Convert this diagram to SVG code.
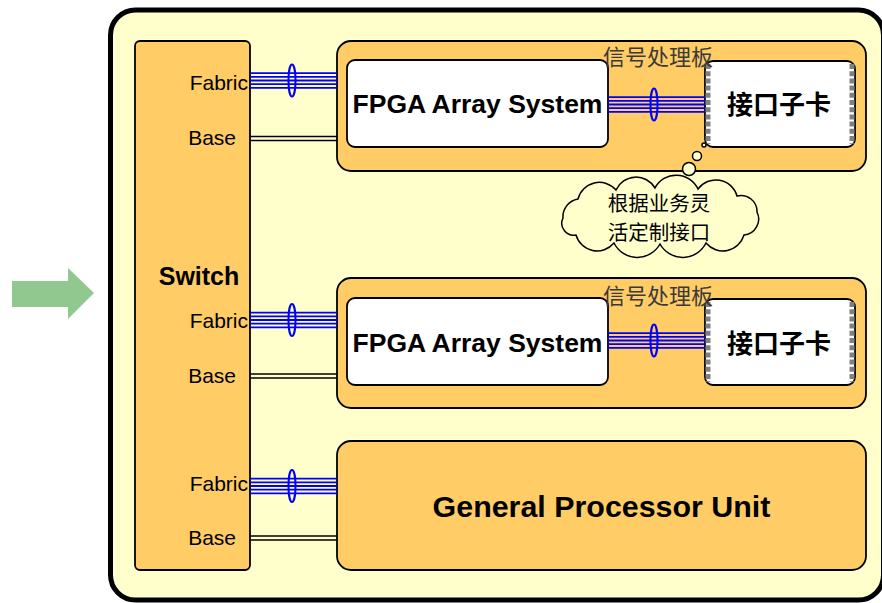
<svg xmlns="http://www.w3.org/2000/svg" width="882" height="603" viewBox="0 0 882 603">
  <style>
    .frame{fill:#FFFFCC;stroke:#000;stroke-width:5}
    .board{fill:#FFCC66;stroke:#000;stroke-width:1.8}
    .box{fill:#FFFFFF;stroke:#000;stroke-width:1.8}
    .lbl{font-family:"Liberation Sans",Arial,sans-serif;font-size:21px;fill:#000;text-anchor:end}
    .big{font-family:"Liberation Sans",Arial,sans-serif;font-weight:bold;fill:#000;text-anchor:middle}
    .cjk{font-family:"Noto Sans CJK SC",sans-serif}
    .card{font-family:"Noto Sans CJK SC",sans-serif;font-weight:bold;font-size:26px;fill:#000;text-anchor:middle}
    .title{font-family:"Noto Sans CJK SC",sans-serif;font-size:22px;fill:#3a3a3a}
    .fab{fill:none;stroke:#0000FF;stroke-width:1.8}
    .ring{fill:none;stroke:#0000FF;stroke-width:2}
    .base{fill:none;stroke:#000;stroke-width:1.6}
    .edge{stroke:#808080;stroke-width:5;stroke-dasharray:5 2.2}
    .bub{fill:#FFFFCC;stroke:#000;stroke-width:1.5}
  </style>

  <!-- incoming arrow -->
  <polygon id="arrow" points="12,281 68,281 68,268 94,293 68,319 68,307 12,307" fill="#90C890"/>

  <!-- chassis frame -->
  <rect id="chassis" class="frame" x="110.5" y="10" width="773" height="590" rx="25"/>

  <!-- switch column -->
  <g id="switch">
    <rect class="board" x="135" y="41" width="115" height="529" rx="5"/>
    <text class="big" x="199" y="285" font-size="25">Switch</text>
    <text class="lbl" x="248" y="90">Fabric</text>
    <text class="lbl" x="236" y="145">Base</text>
    <text class="lbl" x="248" y="328">Fabric</text>
    <text class="lbl" x="236" y="383">Base</text>
    <text class="lbl" x="248" y="491">Fabric</text>
    <text class="lbl" x="236" y="545">Base</text>
  </g>

  <!-- signal processing board 1 -->
  <g id="board1">
    <rect class="board" x="337" y="41" width="529" height="130" rx="14"/>
    <rect class="box" x="347" y="60" width="261" height="87" rx="8"/>
    <text class="big" x="477.5" y="113" font-size="26.5">FPGA Array System</text>
    <rect class="box" x="705" y="61" width="150" height="86" rx="8"/>
    <line class="edge" x1="708" y1="64" x2="708" y2="144"/>
    <line class="edge" x1="852" y1="64" x2="852" y2="144"/>
    <text class="card" x="779" y="114">接口子卡</text>
    <text class="title" x="603" y="65">信号处理板</text>
  </g>

  <!-- signal processing board 2 -->
  <g id="board2">
    <rect class="board" x="337" y="278" width="529" height="130" rx="14"/>
    <rect class="box" x="347" y="298" width="261" height="87" rx="8"/>
    <text class="big" x="477.5" y="352" font-size="26.5">FPGA Array System</text>
    <rect class="box" x="705" y="299" width="150" height="86" rx="8"/>
    <line class="edge" x1="708" y1="302" x2="708" y2="382"/>
    <line class="edge" x1="852" y1="302" x2="852" y2="382"/>
    <text class="card" x="779" y="353">接口子卡</text>
    <text class="title" x="603" y="304">信号处理板</text>
  </g>

  <!-- general processor unit -->
  <g id="gpu">
    <rect class="board" x="337" y="441" width="529" height="129" rx="14"/>
    <text class="big" x="601.5" y="517" font-size="30.4">General Processor Unit</text>
  </g>

  <!-- links: fabric bundles and base pairs -->
  <g id="connectors">
    <path class="fab" d="M250,73.1H337M250,76.8H337M250,80.5H337M250,84.2H337M250,87.9H337"/>
    <ellipse class="ring" cx="292" cy="80.5" rx="3.5" ry="16"/>
    <path class="base" d="M250,136.5H337M250,140.5H337"/>

    <path class="fab" d="M608,97.1H705M608,100.8H705M608,104.5H705M608,108.2H705M608,111.9H705"/>
    <ellipse class="ring" cx="654" cy="104.5" rx="3.5" ry="16"/>

    <path class="fab" d="M250,312.6H337M250,316.3H337M250,320H337M250,323.7H337M250,327.4H337"/>
    <ellipse class="ring" cx="292" cy="320" rx="3.5" ry="16"/>
    <path class="base" d="M250,374H337M250,378H337"/>

    <path class="fab" d="M608,333.1H705M608,336.8H705M608,340.5H705M608,344.2H705M608,347.9H705"/>
    <ellipse class="ring" cx="654" cy="340.5" rx="3.5" ry="16"/>

    <path class="fab" d="M250,478.6H337M250,482.3H337M250,486H337M250,489.7H337M250,493.4H337"/>
    <ellipse class="ring" cx="292" cy="486" rx="3.5" ry="16"/>
    <path class="base" d="M250,536H337M250,540H337"/>
  </g>

  <!-- callout cloud -->
  <g id="note">
    <circle class="bub" cx="704" cy="145" r="2"/>
    <circle class="bub" cx="697" cy="156" r="4.5"/>
    <circle class="bub" cx="689" cy="169" r="6.5"/>
    <path class="bub" d="M563,218 A18,18 0 0 1 578,199 A22,22 0 0 1 616,190 A22,22 0 0 1 655,188 A24,24 0 0 1 698,189 A22,22 0 0 1 737,196 A16,16 0 0 1 757,212 A16,16 0 0 1 744,235 A22,22 0 0 1 706,243 A26,26 0 0 1 660,244 A26,26 0 0 1 614,243 A22,22 0 0 1 576,235 A12,12 0 0 1 563,218 Z"/>
    <text class="cjk" x="659" y="211" font-size="20.5" text-anchor="middle">根据业务灵</text>
    <text class="cjk" x="659" y="240" font-size="20.5" text-anchor="middle">活定制接口</text>
  </g>
</svg>
